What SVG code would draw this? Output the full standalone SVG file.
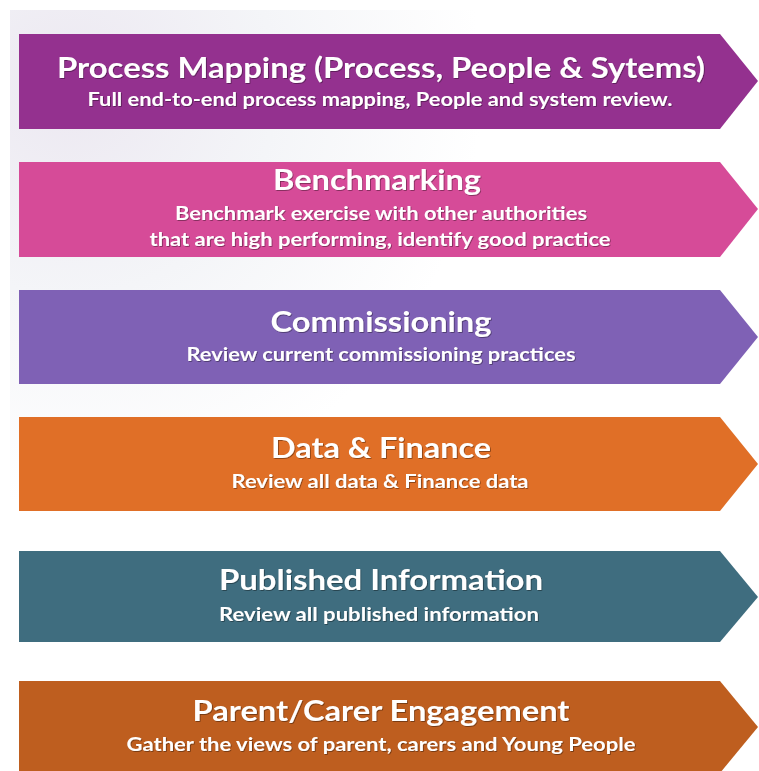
<svg xmlns="http://www.w3.org/2000/svg" width="759" height="771" viewBox="0 0 759 771">
  <defs>
    <radialGradient id="bg" cx="0.08" cy="0.1" r="0.55">
      <stop offset="0" stop-color="#ece8f1"/>
      <stop offset="0.5" stop-color="#f4f5f8"/>
      <stop offset="1" stop-color="#ffffff"/>
    </radialGradient>
    <filter id="sh" x="-5%" y="-20%" width="110%" height="140%">
      <feDropShadow dx="0.8" dy="0.8" stdDeviation="0.6" flood-color="#000" flood-opacity="0.45"/>
    </filter>
  </defs>
  <style>
    .t { font-family: Lato, "Open Sans", "Liberation Sans", sans-serif; font-weight: bold; fill: #ffffff; text-anchor: middle; }
    .h { font-size: 29px; }
    .s { font-size: 18px; }
  </style>
  <rect x="0" y="0" width="759" height="771" fill="#ffffff"/>
  <rect x="10" y="10" width="749" height="761" fill="url(#bg)"/>
  <g id="connectors"/>
  <g id="n1">
    <polygon points="19,34 720,34 758,81 720,129 19,129" fill="#94318F"/>
    <g filter="url(#sh)">
      <text class="t h" x="381" y="78" textLength="648" lengthAdjust="spacingAndGlyphs">Process Mapping (Process, People &amp; Sytems)</text>
      <text class="t s" x="380" y="106" textLength="585" lengthAdjust="spacingAndGlyphs">Full end-to-end process mapping, People and system review.</text>
    </g>
  </g>
  <g id="n2">
    <polygon points="19,162 720,162 758,209 720,257 19,257" fill="#D64B98"/>
    <g filter="url(#sh)">
      <text class="t h" x="377" y="190" textLength="208" lengthAdjust="spacingAndGlyphs">Benchmarking</text>
      <text class="t s" x="381" y="220" textLength="412" lengthAdjust="spacingAndGlyphs">Benchmark exercise with other authorities</text>
      <text class="t s" x="380" y="246" textLength="461" lengthAdjust="spacingAndGlyphs">that are high performing, identify good practice</text>
    </g>
  </g>
  <g id="n3">
    <polygon points="19,290 720,290 758,337 720,384 19,384" fill="#7F61B5"/>
    <g filter="url(#sh)">
      <text class="t h" x="381" y="332" textLength="221" lengthAdjust="spacingAndGlyphs">Commissioning</text>
      <text class="t s" x="381" y="361" textLength="389" lengthAdjust="spacingAndGlyphs">Review current commissioning practices</text>
    </g>
  </g>
  <g id="n4">
    <polygon points="19,417 720,417 758,464 720,511 19,511" fill="#E06F27"/>
    <g filter="url(#sh)">
      <text class="t h" x="381" y="458" textLength="220" lengthAdjust="spacingAndGlyphs">Data &amp; Finance</text>
      <text class="t s" x="380" y="488" textLength="297" lengthAdjust="spacingAndGlyphs">Review all data &amp; Finance data</text>
    </g>
  </g>
  <g id="n5">
    <polygon points="19,551 720,551 758,597 720,642 19,642" fill="#3F6D7F"/>
    <g filter="url(#sh)">
      <text class="t h" x="381" y="590" textLength="324" lengthAdjust="spacingAndGlyphs">Published Information</text>
      <text class="t s" x="379" y="621" textLength="320" lengthAdjust="spacingAndGlyphs">Review all published information</text>
    </g>
  </g>
  <g id="n6">
    <polygon points="19,681 720,681 758,727 720,773 19,773" fill="#BE5E1F"/>
    <g filter="url(#sh)">
      <text class="t h" x="381" y="721" textLength="377" lengthAdjust="spacingAndGlyphs">Parent/Carer Engagement</text>
      <text class="t s" x="381" y="751" textLength="509" lengthAdjust="spacingAndGlyphs">Gather the views of parent, carers and Young People</text>
    </g>
  </g>
</svg>
